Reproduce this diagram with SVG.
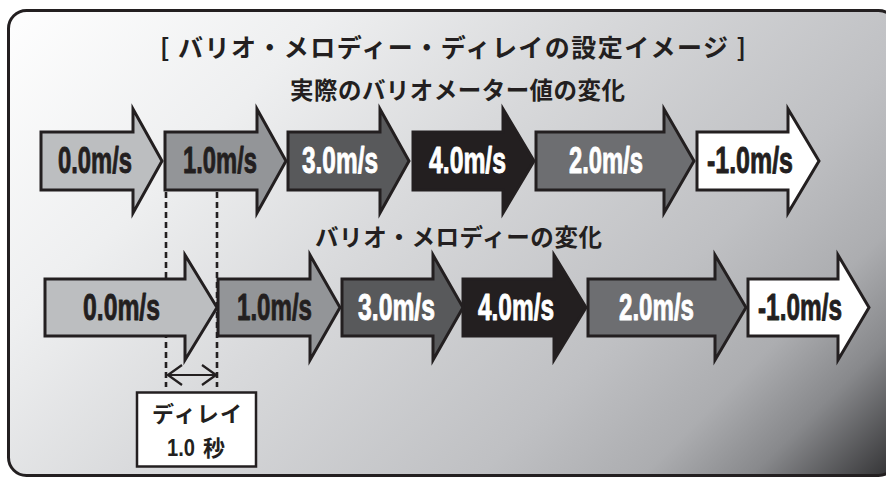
<svg xmlns="http://www.w3.org/2000/svg" width="886" height="477" viewBox="0 0 886 477">
  <defs>
    <linearGradient id="bg" gradientUnits="userSpaceOnUse" x1="0" y1="0" x2="681.5" y2="681.5">
      <stop offset="0" stop-color="#ffffff"/>
      <stop offset="0.25" stop-color="#eeeff0"/>
      <stop offset="0.45" stop-color="#d8d9db"/>
      <stop offset="0.7" stop-color="#bfc0c3"/>
      <stop offset="0.82" stop-color="#acadb0"/>
      <stop offset="0.9" stop-color="#88898c"/>
      <stop offset="1" stop-color="#353537"/>
    </linearGradient>
    <marker id="vhead" viewBox="0 0 16 22" refX="15" refY="11" markerWidth="16" markerHeight="22" markerUnits="userSpaceOnUse" orient="auto-start-reverse">
      <path d="M1,1 L15,11 L1,21" fill="none" stroke="#231f20" stroke-width="2.2"/>
    </marker>
    <style>
      .arr { stroke: #231f20; stroke-width: 3; stroke-linejoin: miter; stroke-miterlimit: 10; }
      .c0 { fill: #bcbec0; }
      .c1 { fill: #939598; }
      .c3 { fill: #58595b; }
      .c4 { fill: #231f20; }
      .c2 { fill: #6d6e71; }
      .cm { fill: #ffffff; }
      .v { font-family: "Liberation Sans", Arial, sans-serif; font-weight: bold; font-size: 36px; stroke-width: 0.9; stroke-linejoin: round; }
      .dk { fill: #231f20; stroke: #231f20; }
      .wt { fill: #ffffff; stroke: #ffffff; }
      .jp { font-family: "Noto Sans CJK JP", "Noto Sans", sans-serif; font-weight: bold; fill: #231f20; }
      .lat { font-family: "Liberation Sans", Arial, sans-serif; font-weight: bold; }
      .dot { stroke: #231f20; stroke-width: 2.6; stroke-dasharray: 6 4; fill: none; }
    </style>
  </defs>

  <rect x="0" y="0" width="886" height="477" fill="#ffffff"/>
  <rect id="frame" x="8.5" y="10.5" width="888" height="465" rx="18" ry="18" fill="url(#bg)" stroke="#231f20" stroke-width="3"/>

  <g id="titles">
    <text class="jp" x="160" y="57" font-size="25" textLength="586">[ バリオ・メロディー・ディレイの設定イメージ ]</text>
    <text class="jp" x="290" y="99" font-size="23.5" textLength="335">実際のバリオメーター値の変化</text>
    <text class="jp" x="315" y="246" font-size="23.5" textLength="287">バリオ・メロディーの変化</text>
  </g>

  <g id="connectors">
    <line class="dot" x1="166" y1="192" x2="166" y2="387"/>
    <line class="dot" x1="217" y1="192" x2="217" y2="387"/>
    <line x1="168" y1="375" x2="216" y2="375" stroke="#231f20" stroke-width="2.2" marker-start="url(#vhead)" marker-end="url(#vhead)"/>
  </g>

  <!-- Top row: actual vario meter values -->
  <g id="top-0">
    <path class="arr c0" d="M41,132 H133 V109 L162,161 L133,213 V190 H41 Z"/>
    <text class="v dk" x="58" y="173" textLength="74" lengthAdjust="spacingAndGlyphs">0.0m/s</text>
  </g>
  <g id="top-1">
    <path class="arr c1" d="M165,132 H257 V109 L286,161 L257,213 V190 H165 Z"/>
    <text class="v dk" x="183" y="173" textLength="74" lengthAdjust="spacingAndGlyphs">1.0m/s</text>
  </g>
  <g id="top-3">
    <path class="arr c3" d="M288,132 H380 V109 L409,161 L380,213 V190 H288 Z"/>
    <text class="v wt" x="302" y="173" textLength="76" lengthAdjust="spacingAndGlyphs">3.0m/s</text>
  </g>
  <g id="top-4">
    <path class="arr c4" d="M413,132 H503 V109 L534,161 L503,213 V190 H413 Z"/>
    <text class="v wt" x="429" y="173" textLength="77" lengthAdjust="spacingAndGlyphs">4.0m/s</text>
  </g>
  <g id="top-2">
    <path class="arr c2" d="M536,132 H664 V109 L694,161 L664,213 V190 H536 Z"/>
    <text class="v wt" x="569" y="173" textLength="74" lengthAdjust="spacingAndGlyphs">2.0m/s</text>
  </g>
  <g id="top-m1">
    <path class="arr cm" d="M697,132 H788 V109 L819,161 L788,213 V190 H697 Z"/>
    <text class="v dk" x="707" y="173" textLength="86" lengthAdjust="spacingAndGlyphs">-1.0m/s</text>
  </g>

  <!-- Bottom row: vario melody -->
  <g id="bot-0">
    <path class="arr c0" d="M45,279 H185 V255 L217,307.5 L185,360 V336 H45 Z"/>
    <text class="v dk" x="83" y="320" textLength="77" lengthAdjust="spacingAndGlyphs">0.0m/s</text>
  </g>
  <g id="bot-1">
    <path class="arr c1" d="M218,279 H310 V255 L340,307.5 L310,360 V336 H218 Z"/>
    <text class="v dk" x="237" y="320" textLength="75" lengthAdjust="spacingAndGlyphs">1.0m/s</text>
  </g>
  <g id="bot-3">
    <path class="arr c3" d="M342,279 H433 V255 L463,307.5 L433,360 V336 H342 Z"/>
    <text class="v wt" x="358" y="320" textLength="77" lengthAdjust="spacingAndGlyphs">3.0m/s</text>
  </g>
  <g id="bot-4">
    <path class="arr c4" d="M463,279 H554 V255 L586,307.5 L554,360 V336 H463 Z"/>
    <text class="v wt" x="478" y="320" textLength="76" lengthAdjust="spacingAndGlyphs">4.0m/s</text>
  </g>
  <g id="bot-2">
    <path class="arr c2" d="M588,279 H715 V255 L746,307.5 L715,360 V336 H588 Z"/>
    <text class="v wt" x="619" y="320" textLength="75" lengthAdjust="spacingAndGlyphs">2.0m/s</text>
  </g>
  <g id="bot-m1">
    <path class="arr cm" d="M748,279 H838 V255 L869,307.5 L838,360 V336 H748 Z"/>
    <text class="v dk" x="758" y="320" textLength="84" lengthAdjust="spacingAndGlyphs">-1.0m/s</text>
  </g>

  <g id="delay-box">
    <rect x="137" y="392.5" width="119" height="74" fill="#ffffff" stroke="#231f20" stroke-width="2.5"/>
    <text class="jp" x="152" y="422" font-size="22" textLength="90">ディレイ</text>
    <text class="jp" x="167" y="456" font-size="22"><tspan class="lat" font-size="23" textLength="28" lengthAdjust="spacingAndGlyphs">1.0</tspan><tspan x="203">秒</tspan></text>
  </g>
</svg>
